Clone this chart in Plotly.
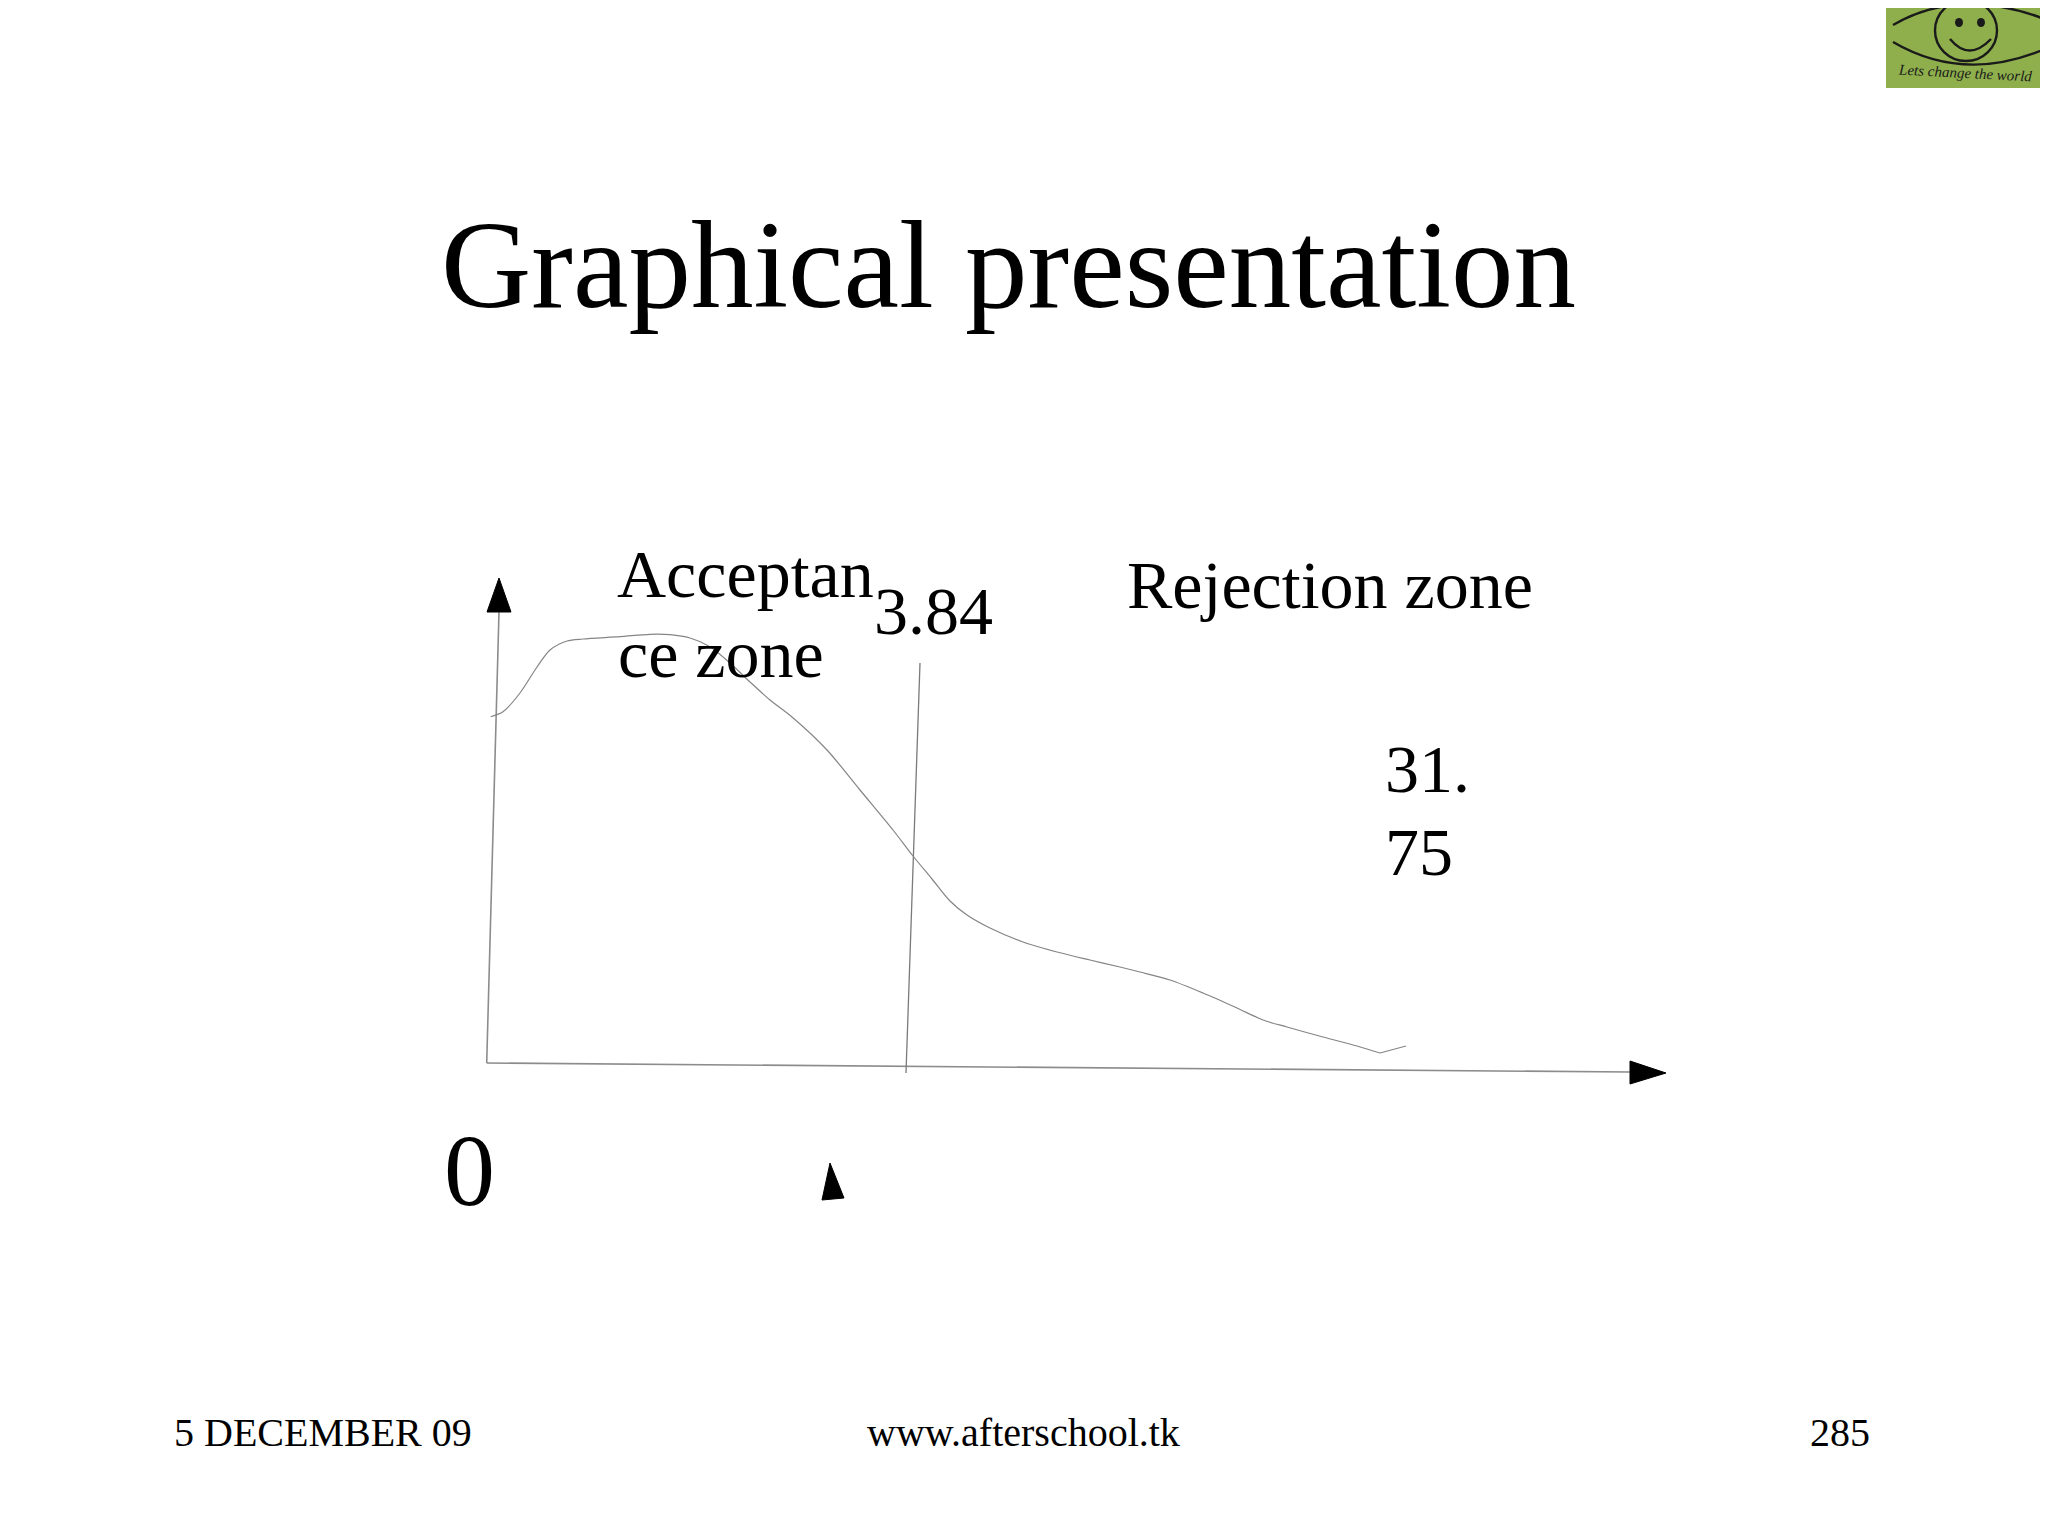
import plotly.graph_objects as go

# ---- data (slide coordinates) ----
curve_x = [490.7, 503, 520, 537, 550, 567, 583, 620, 650, 670, 690, 710, 730, 750, 770,
           792, 827, 860, 893, 913, 932, 950, 967, 990, 1023, 1057, 1090, 1120,
           1140, 1170, 1203, 1237, 1263, 1287, 1323, 1357, 1380, 1406]
curve_y = [716.7, 711.7, 693, 667, 650, 641, 639, 636.7, 634.3, 634.7, 638, 646.7, 663, 682, 700,
           717, 750, 790, 830, 856, 879, 901, 915, 928, 942, 952, 960, 967,
           972, 980, 993, 1008, 1020, 1027, 1037, 1046, 1053, 1046]

yaxis_line_x = [486.7, 499]
yaxis_line_y = [1063, 612]
xaxis_line_x = [486.7, 1630]
xaxis_line_y = [1063, 1072]
crit_line_x = [920, 906]
crit_line_y = [663, 1073]

yarrow_x = [499, 511, 487, 499]
yarrow_y = [578, 612, 612, 578]
xarrow_x = [1630, 1666, 1630, 1630]
xarrow_y = [1061, 1073, 1084, 1061]
small_tri_x = [830, 844, 822, 830]
small_tri_y = [1163, 1198, 1200, 1163]

title_text = "Graphical presentation"
accept_lines = ["Acceptan", "ce zone"]
crit_label = "3.84"
reject_label = "Rejection zone"
stat_lines = ["31.", "75"]
origin_label = "0"
footer_left = "5 DECEMBER 09"
footer_mid = "www.afterschool.tk"
footer_right = "285"
logo_text = "Lets change the world"

OFF = 8  # default body margin of the html page
W, H = 2048, 1536
SERIF = "Liberation Serif, Times New Roman, serif"

fig = go.Figure()

line_grey = "#858585"
fig.add_trace(go.Scatter(x=yaxis_line_x, y=yaxis_line_y, mode="lines",
                         line=dict(color="#8c8c8c", width=1.6), hoverinfo="skip"))
fig.add_trace(go.Scatter(x=xaxis_line_x, y=xaxis_line_y, mode="lines",
                         line=dict(color="#8c8c8c", width=1.6), hoverinfo="skip"))
fig.add_trace(go.Scatter(x=crit_line_x, y=crit_line_y, mode="lines",
                         line=dict(color="#7a7a7a", width=1.3), hoverinfo="skip"))
fig.add_trace(go.Scatter(x=curve_x[:-1], y=curve_y[:-1], mode="lines",
                         line=dict(color=line_grey, width=1.2, shape="spline", smoothing=0.8),
                         hoverinfo="skip"))
fig.add_trace(go.Scatter(x=curve_x[-2:], y=curve_y[-2:], mode="lines",
                         line=dict(color=line_grey, width=1.2), hoverinfo="skip"))
for ax_, ay_ in [(yarrow_x, yarrow_y), (xarrow_x, xarrow_y), (small_tri_x, small_tri_y)]:
    fig.add_trace(go.Scatter(x=ax_, y=ay_, mode="lines", fill="toself",
                             fillcolor="black", line=dict(color="black", width=1),
                             hoverinfo="skip"))

# ---- text ----
def txt(s, x, baseline, size, xanchor="left", **kw):
    # place so that the given baseline matches (Liberation Serif metrics)
    yc = baseline - 0.3375 * size
    fig.add_annotation(x=x, y=yc, text=s, showarrow=False, xanchor=xanchor,
                       yanchor="middle", font=dict(family=SERIF, size=size, color="black"),
                       borderpad=0, **kw)

txt(title_text, 1008, 307, 125, xanchor="center")
txt(accept_lines[0], 616, 597, 68)
txt(accept_lines[1], 617, 677, 68)
txt(crit_label, 873, 634, 68)
txt(reject_label, 1126, 608, 68)
txt(stat_lines[0], 1384, 792, 68)
txt(stat_lines[1], 1384, 875, 68)
txt(origin_label, 443, 1205, 102)
txt(footer_left, 173, 1446, 40)
txt(footer_mid, 1023, 1446, 40, xanchor="center")
txt(footer_right, 1871, 1446, 40, xanchor="right")

# ---- logo (top right) ----
shapes = [
    dict(type="rect", x0=1886, x1=2049, y0=0, y1=88, fillcolor="#8eaf4c",
         line=dict(width=0), layer="below"),
    dict(type="path", path="M 1893,25 Q 1960,-14 2047,20",
         line=dict(color="#1a1a1a", width=2.4)),
    dict(type="path", path="M 1893,42 Q 1965,84 2047,48",
         line=dict(color="#1a1a1a", width=2.4)),
    dict(type="circle", x0=1935, x1=1997, y0=0, y1=61,
         line=dict(color="#1a1a1a", width=2.4)),
    dict(type="circle", x0=1955, x1=1963, y0=18, y1=27, fillcolor="#1a1a1a",
         line=dict(width=0)),
    dict(type="circle", x0=1977, x1=1985, y0=18, y1=27, fillcolor="#1a1a1a",
         line=dict(width=0)),
    dict(type="path", path="M 1950,39 Q 1969,62 1991,39",
         line=dict(color="#1a1a1a", width=2.4)),
]
fig.update_layout(shapes=shapes)
fig.add_annotation(x=1965, y=73, text="<i>" + logo_text + "</i>", showarrow=False,
                   xanchor="center", yanchor="middle", textangle=3,
                   font=dict(family=SERIF, size=15, color="#1a1a1a"))

fig.update_layout(
    width=W - 2 * OFF, height=H - 2 * OFF,
    margin=dict(l=0, r=0, t=0, b=0, pad=0),
    paper_bgcolor="white", plot_bgcolor="white",
    showlegend=False,
    xaxis=dict(range=[OFF, W - OFF], visible=False, fixedrange=True),
    yaxis=dict(range=[H - OFF, OFF], visible=False, fixedrange=True),
)

fig.write_html("out.html", config={"displayModeBar": False})
